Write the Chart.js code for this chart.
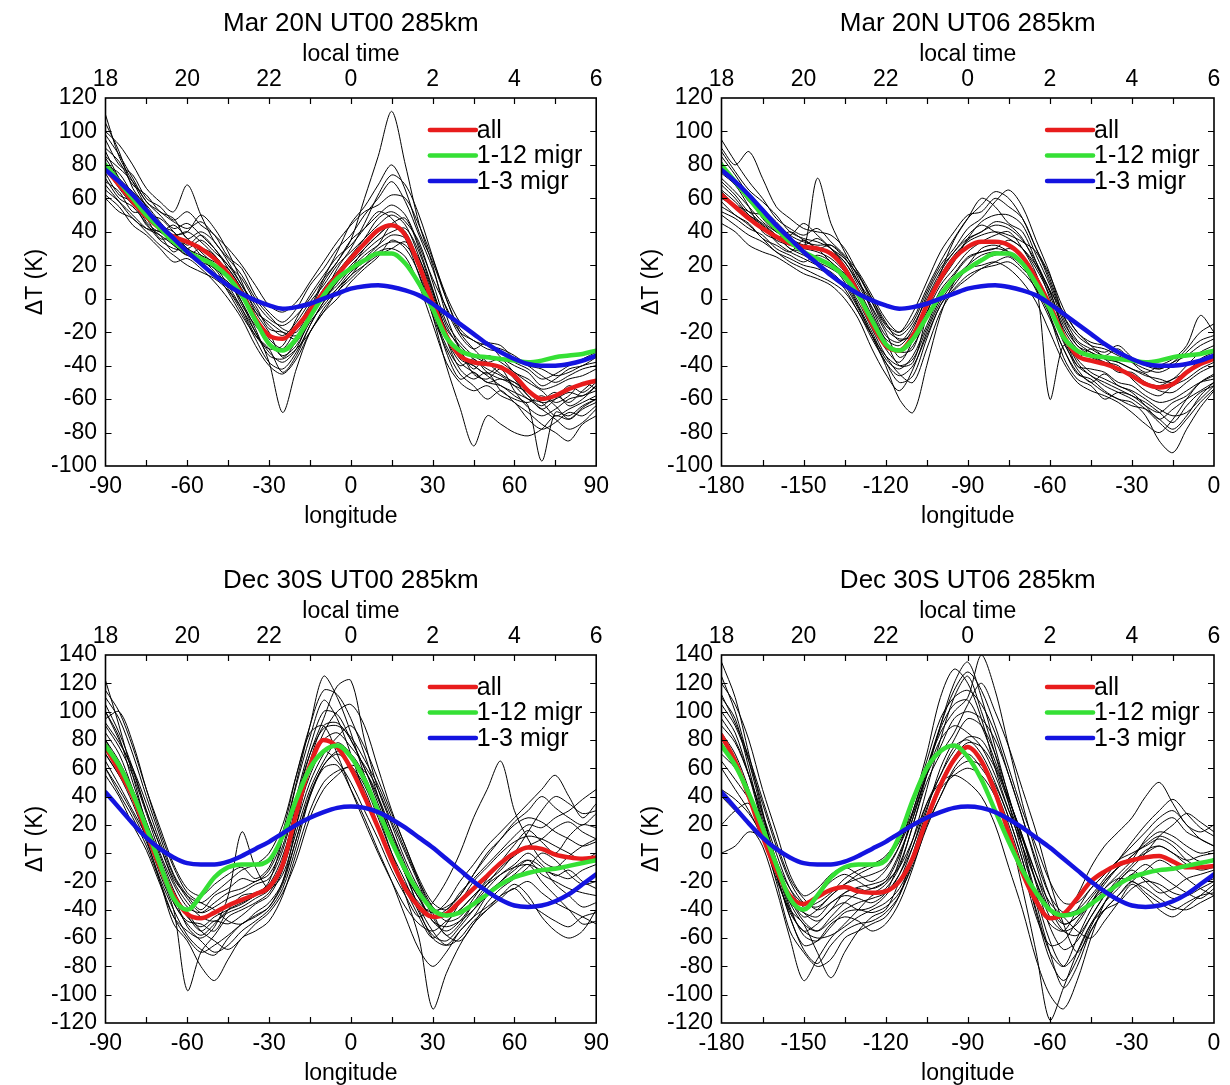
<!DOCTYPE html>
<html><head><meta charset="utf-8">
<script src="https://cdn.jsdelivr.net/npm/chart.js@4.4.0/dist/chart.umd.min.js"></script>
<style>
html,body{margin:0;padding:0;background:#fff;overflow:hidden;width:1230px;height:1085px;position:relative;}
canvas{position:absolute;}
#err{position:absolute;left:10px;top:540px;color:red;font:14px sans-serif;}
</style></head><body>
<canvas id="c1" width="616" height="528" style="left:0;top:0"></canvas>
<canvas id="c2" width="616" height="528" style="left:616px;top:0"></canvas>
<canvas id="c3" width="616" height="528" style="left:0;top:557px"></canvas>
<canvas id="c4" width="616" height="528" style="left:616px;top:557px"></canvas>
<div id="err"></div>
<script>
// ---------------- data ----------------
const lonUT00 = [-90,-85,-80,-75,-70,-65,-60,-55,-50,-45,-40,-35,-30,-25,-20,-15,-10,-5,0,5,10,15,20,25,30,35,40,45,50,55,60,65,70,75,80,85,90];
const lonUT06 = [-180,-175,-170,-165,-160,-155,-150,-145,-140,-135,-130,-125,-120,-115,-110,-105,-100,-95,-90,-85,-80,-75,-70,-65,-60,-55,-50,-45,-40,-35,-30,-25,-20,-15,-10,-5,0];
const localTimeLabels = ['18','20','22','0','2','4','6'];
const seriesLabels = ['all','1-12 migr','1-3 migr'];
const titles = ['Mar 20N UT00 285km','Mar 20N UT06 285km','Dec 30S UT00 285km','Dec 30S UT06 285km'];

// "all" curves
const redMar00 = [78,68,58,49,42,37,34,30,24,15, 3,-12,-22,-24,-17,-7,4,14,24,33, 41,44,38,20,-2,-22,-34,-38,-39,-41, -46,-55,-60,-58,-54,-51,-49];
const redMar06 = [62,55,48,42,37,33,31,30,27,18, 3,-15,-28,-31,-22,-4,12,24,31,34, 34,32,25,12,-4,-22,-34,-37,-39,-42, -46,-51,-53,-51,-44,-39,-36];
const redDec00 = [75,58,40,15,-10,-30,-43,-46,-42,-37, -33,-29,-24,-8,28,62,80,75,60,40, 18,-5,-25,-38,-45,-43,-34,-25,-16,-7, 0,4,3,-1,-3,-4,-3];
const redDec06 = [83,65,40,12,-12,-30,-36,-31,-26,-24, -27,-28,-27,-20,-3,24,48,66,75,65, 43,14,-14,-34,-46,-43,-32,-20,-13,-8, -5,-3,-2,-6,-10,-10,-9];
// migrating tides (functions of local time, shared by both UT panels)
const greenMar = [80,70,60,50,42,34,28,24,20,13, 2,-13,-27,-31,-24,-11,2,12,18,23, 27,27,21,9,-6,-23,-31,-34,-35,-36, -37,-38,-37,-35,-34,-33,-31];
const blueMar  = [77,70,62,53,44,36,28,21,14,8, 3,-1,-4,-6,-5,-3,0,3,6,7.5, 8,7,5,2,-3,-9,-15,-21,-27,-32, -36,-39,-40,-40,-39,-37,-34];
const greenDec = [76,62,42,18,-8,-32,-40,-30,-17,-10, -8,-8,-5,12,38,60,72,76,68,52, 30,8,-12,-28,-40,-44,-42,-36,-29,-22, -17,-14,-12,-11,-9,-7,-5];
const blueDec  = [43,32,21,11,3,-3,-7,-8,-8,-6, -2,3,8,14,20,25,29,32,33,32, 29,24,18,11,4,-4,-12,-20,-27,-33, -37,-38,-37,-34,-29,-22,-15];

// individual days (black)
const daysMar00 = [
 [95,80,74,60,55,47,52,44,38,25, 18,2,-8,-14,-6,8,18,30,38,50, 60,70,58,38,18,-6,-22,-30,-26,-35, -40,-44,-52,-48,-42,-40,-35],
 [62,55,44,38,30,22,24,18,10,0, -12,-28,-40,-45,-36,-20,-8,4,12,20, 28,30,25,8,-15,-38,-50,-55,-52,-58, -62,-72,-78,-74,-68,-70,-64],
 [88,72,60,46,40,44,36,28,20,8, -6,-22,-30,-28,-12,2,14,25,32,42, 52,48,36,14,-8,-28,-40,-36,-44,-48, -50,-58,-66,-60,-52,-56,-50],
 [70,64,52,52,45,34,30,35,28,20, 8,-4,-18,-20,-22,-10,0,10,20,28, 35,40,42,28,5,-16,-30,-42,-34,-38, -44,-50,-55,-62,-58,-50,-54],
 [105,88,66,55,40,38,40,50,42,28, 10,-8,-20,-35,-25,-8,10,22,35,60, 85,112,80,45,20,-10,-30,-45,-48,-42, -55,-65,-70,-66,-60,-58,-55],
 [80,75,62,50,48,40,30,26,22,18, 5,-14,-28,-30,-18,-4,4,14,22,30, 38,45,48,30,6,-20,-36,-40,-45,-40, -48,-58,-64,-58,-62,-55,-48],
 [72,60,55,45,35,30,28,22,15,10, -2,-18,-38,-68,-42,-20,-8,0,10,18, 25,35,30,15,-10,-30,-45,-52,-60,-55, -62,-68,-75,-80,-85,-75,-70],
 [85,78,70,58,50,42,45,38,30,20, 12,-2,-12,-16,-10,0,12,22,35,42, 50,56,50,32,12,-5,-20,-25,-30,-32, -38,-42,-48,-45,-40,-36,-32],
 [65,58,50,42,38,32,26,30,26,14, -2,-20,-32,-38,-30,-12,0,8,18,26, 32,38,36,18,-10,-40,-65,-88,-70,-75, -80,-82,-78,-70,-72,-65,-60],
 [90,82,68,62,52,48,36,40,34,22, 8,-6,-16,-22,-14,-2,8,20,28,36, 44,50,44,25,2,-18,-28,-36,-42,-46, -52,-60,-62,-70,-66,-62,-58],
 [60,52,48,40,32,26,20,16,12,5, -8,-24,-38,-42,-32,-16,-2,6,16,22, 30,34,32,20,0,-24,-38,-44,-50,-52, -58,-64,-97,-68,-70,-64,-60],
 [100,92,80,66,58,52,68,50,34,24, 14,0,-10,-18,-20,-6,12,28,45,55, 68,80,65,40,22,0,-18,-25,-28,-30, -34,-40,-46,-50,-46,-42,-40],
 [110,85,70,55,44,40,32,38,30,18, 6,-10,-24,-30,-26,-12,2,18,30,45, 62,74,68,50,25,0,-20,-30,-38,-45, -50,-54,-60,-56,-64,-60,-52],
 [75,62,58,44,38,28,34,26,18,12, -4,-16,-26,-34,-28,-14,-4,6,14,24, 32,44,40,22,0,-24,-42,-48,-44,-55, -60,-62,-58,-64,-72,-66,-62],
 [84,72,64,56,46,38,40,34,26,16, 4,-8,-14,-20,-24,-8,6,16,26,36, 48,52,46,34,10,-14,-26,-34,-38,-36, -44,-48,-54,-52,-48,-46,-42],
 [68,58,48,42,40,32,26,22,18,6, -6,-20,-34,-36,-30,-20,-6,4,14,20, 26,30,34,24,4,-20,-34,-40,-46,-52, -56,-60,-66,-72,-78,-74,-66],
 [98,86,72,58,52,46,42,46,38,30, 20,8,-4,-8,-2,10,22,34,44,52, 56,62,60,44,24,2,-14,-22,-26,-28, -36,-40,-42,-46,-44,-40,-38],
 [78,66,56,48,36,36,30,24,16,4, -10,-22,-30,-44,-34,-16,-2,10,18,30, 38,44,38,18,-6,-32,-48,-44,-50,-48, -52,-56,-62,-60,-56,-58,-52]
];
const daysMar06 = [
 [90,80,88,72,55,48,42,40,38,30, 15,0,-15,-20,-8,10,28,40,50,52, 60,55,48,30,12,-10,-22,-28,-30,-34, -38,-42,-44,-40,-32,-25,-22],
 [45,40,32,28,25,20,15,12,8,0, -12,-30,-45,-55,-42,-20,-2,10,18,20, 22,18,10,-2,-20,-38,-50,-55,-58,-62, -68,-75,-80,-72,-60,-50,-45],
 [70,62,52,50,42,38,45,38,30,20, 6,-10,-24,-28,-18,2,18,28,38,44, 40,36,30,18,2,-18,-30,-35,-38,-40, -48,-55,-58,-52,-48,-42,-38],
 [58,50,45,36,32,28,35,30,32,25, 10,-5,-20,-35,-28,-12,5,15,25,28, 30,35,30,20,5,-20,-40,-42,-44,-50, -52,-58,-62,-60,-55,-50,-48],
 [82,68,60,48,40,35,30,72,45,28, 12,-8,-25,-40,-38,-10,15,35,48,60, 55,45,40,22,0,-25,-35,-30,-32,-28, -35,-40,-42,-38,-30,-20,-15],
 [65,58,50,45,38,30,28,24,20,10, -5,-22,-40,-60,-68,-40,-10,10,20,30, 32,28,20,5,-12,-30,-45,-48,-55,-60, -62,-70,-85,-92,-78,-65,-55],
 [75,68,55,40,36,40,35,30,22,15, 5,-12,-28,-32,-30,-5,10,22,35,40, 44,42,35,22,5,-8,-20,-28,-35,-38, -42,-45,-50,-48,-40,-32,-28],
 [52,48,42,38,30,26,22,26,22,12, -2,-18,-34,-45,-50,-30,-8,5,12,18, 22,25,18,8,-60,-28,-42,-50,-45,-52, -55,-60,-66,-70,-68,-60,-52],
 [88,76,65,58,50,40,36,34,30,22, 10,-2,-16,-22,-14,4,20,30,42,48, 58,65,55,35,15,-10,-25,-30,-34,-30, -38,-44,-40,-36,-28,-10,-20],
 [60,55,48,42,35,32,30,28,24,16, 2,-16,-30,-38,-25,-8,8,18,28,34, 38,40,30,15,-10,-35,-48,-52,-60,-56, -58,-64,-68,-62,-58,-50,-46],
 [78,70,58,52,45,36,32,36,30,24, 14,0,-14,-25,-20,-2,14,26,34,38, 40,38,34,28,10,-12,-28,-32,-36,-42, -46,-50,-55,-56,-50,-44,-40],
 [68,60,50,44,38,30,26,22,18,12, -4,-20,-36,-42,-34,-16,2,14,24,28, 30,28,22,12,-4,-22,-36,-44,-48,-52, -56,-64,-72,-66,-60,-55,-50],
 [95,82,70,60,48,42,38,42,34,26, 16,2,-12,-20,-12,6,22,36,48,56, 64,60,48,30,14,-6,-20,-26,-28,-32, -36,-38,-42,-38,-34,-28,-24],
 [50,44,38,34,28,22,18,14,10,4, -8,-24,-38,-50,-46,-24,-4,6,14,18, 20,22,16,6,-10,-30,-44,-50,-56,-60, -64,-66,-72,-78,-70,-58,-50],
 [72,64,55,46,40,36,32,30,28,22, 8,-6,-22,-26,-16,0,16,28,36,40, 46,44,36,20,4,-16,-28,-34,-38,-44, -44,-50,-52,-48,-44,-36,-32],
 [64,56,52,44,34,28,24,20,16,8, -6,-22,-38,-46,-40,-22,-4,8,18,24, 26,30,26,14,-2,-20,-38,-46,-50,-54, -58,-62,-68,-74,-64,-56,-52],
 [85,74,62,54,46,38,34,32,32,24, 14,-2,-18,-24,-22,-2,14,24,36,46, 50,50,44,26,8,-14,-26,-32,-36,-38, -42,-46,-48,-50,-44,-38,-34],
 [55,50,44,36,28,24,20,18,14,6, -8,-22,-34,-40,-36,-18,0,12,20,26, 28,26,20,10,-6,-26,-40,-46,-52,-56, -60,-66,-74,-80,-72,-62,-54]
];
const daysDec00 = [
 [122,90,55,20,-10,-35,-50,-58,-50,-40, -35,-30,-20,10,50,90,125,110,85,55, 28,0,-25,-45,-60,-50,-35,-20,-10,0, 8,12,10,5,0,-5,0],
 [60,42,25,5,-20,-45,-60,-70,-65,-58, -50,-44,-38,-20,10,40,60,62,45,25, 2,-20,-45,-68,-80,-70,-55,-45,-30,-20, -10,-5,-15,-20,-25,-28,-30],
 [90,75,55,28,0,-22,-38,-42,-35,-28, -25,-20,-15,5,40,75,100,98,80,60, 35,12,-10,-28,-40,-38,-30,-15,0,10, 20,25,22,15,10,5,8],
 [105,85,60,30,5,-18,-30,-35,-28,-20, -12,-8,0,20,55,85,90,70,45,22, 0,-20,-38,-50,-55,-48,-40,-30,-22,-15, -10,-8,-12,-15,-18,-12,-8],
 [80,60,38,12,-15,-40,-97,-70,-58,-45, -40,-35,-28,-10,25,55,72,65,50,30, 10,-12,-30,-45,-35,-20,0,25,45,65, 30,10,-5,-10,-2,5,10],
 [70,55,35,10,-20,-50,-62,-80,-90,-75, -60,-55,-48,-30,0,30,50,58,60,45, 20,-5,-30,-60,-110,-85,-65,-50,-40,-30, -25,-20,-28,-35,-40,-45,-50],
 [100,82,50,22,-5,-28,-45,-52,-45,-40, -36,-30,-25,-5,35,70,95,118,122,80, 45,20,-5,-25,-38,-45,-40,-30,-20,-12, 0,15,30,40,35,28,30],
 [55,40,20,2,-22,-45,-55,-60,-52,-30, 15,-10,-25,-15,15,45,65,78,70,50, 30,8,-15,-32,-48,-52,-48,-40,-30,-22, -15,-8,-20,-30,-40,-50,-48],
 [95,100,78,45,15,-10,-28,-35,-40,-48, -50,-42,-35,-20,20,60,85,100,105,90, 60,30,5,-18,-35,-40,-28,-18,-8,2, 12,20,18,25,30,38,45],
 [65,48,30,12,-8,-28,-42,-55,-62,-68, -60,-50,-42,-28,-5,25,45,55,62,58, 40,15,-12,-40,-60,-65,-55,-45,-38,-30, -22,-30,-45,-55,-60,-55,-40],
 [110,95,70,40,12,-15,-30,-40,-30,-25, -18,-20,-12,10,48,82,108,95,70,42, 18,-5,-22,-35,-42,-35,-20,-8,5,15, 25,35,45,55,40,25,35],
 [85,70,45,18,-12,-35,-48,-50,-55,-40, -30,-28,-22,-2,30,62,80,85,75,62, 45,22,0,-22,-45,-58,-62,-50,-35,-25, -18,-10,0,-5,-15,-22,-20],
 [100,80,58,30,5,-20,-35,-45,-48,-42, -38,-32,-26,-8,30,65,90,92,80,60, 38,15,-8,-30,-48,-55,-48,-35,-22,-10, -2,5,10,18,22,15,10],
 [70,55,40,20,-5,-30,-52,-62,-70,-65, -55,-48,-40,-25,5,40,62,70,62,48, 25,0,-20,-42,-58,-62,-52,-40,-28,-20, -12,-5,-10,-22,-30,-38,-35],
 [115,100,75,45,18,-8,-25,-30,-22,-15, -10,-18,-10,15,55,90,115,112,95,70, 40,10,-15,-32,-45,-40,-30,-15,-2,10, 22,30,40,32,25,20,28],
 [60,45,28,8,-18,-40,-58,-68,-72,-60, -50,-45,-38,-22,10,42,62,72,70,55, 32,10,-15,-38,-55,-65,-60,-48,-40,-32, -25,-35,-42,-48,-52,-45,-42],
 [92,78,60,35,8,-16,-32,-42,-38,-32, -28,-22,-18,2,38,70,88,90,82,66, 48,25,2,-20,-38,-48,-45,-32,-18,-6, 6,16,8,0,12,20,18],
 [80,65,45,22,-2,-26,-44,-55,-48,-50, -44,-36,-30,-12,20,50,70,82,90,75, 52,28,5,-20,-42,-58,-50,-36,-25,-15, -8,0,-8,-16,-12,-20,-25]
];
const daysDec06 = [
 [135,110,70,30,-10,-40,-55,-50,-40,-35, -40,-38,-30,-15,10,45,80,110,125,100, 70,35,0,-30,-50,-55,-40,-25,-15,-5, 0,5,10,5,-5,-10,-8],
 [0,5,15,10,-20,-55,-70,-80,-75,-60, -55,-50,-45,-30,0,30,60,80,95,90, 70,40,5,-35,-70,-95,-80,-55,-40,-30, -20,-28,-35,-40,-35,-30,-28],
 [100,85,55,20,-10,-35,-42,-45,-35,-30, -32,-35,-28,-5,30,60,85,100,110,140, 115,75,35,0,-30,-50,-45,-35,-20,-10, -5,0,5,0,-5,-2,0],
 [60,45,30,10,-15,-45,-65,-62,-50,-45, -48,-55,-50,-35,-10,20,45,55,60,55, 40,15,-25,-70,-118,-95,-70,-50,-40,-35, -25,-20,-22,-28,-30,-25,-20],
 [120,105,80,45,15,-15,-30,-25,-15,-10, -15,-20,-12,5,35,70,110,130,120,95, 60,30,5,-20,-40,-45,-30,-10,5,15, 25,40,50,35,20,15,20],
 [40,30,20,5,-25,-60,-90,-75,-60,-50, -40,-30,-25,-10,20,50,70,85,105,120, 100,75,45,15,-20,-50,-70,-55,-40,-30, -20,-12,-5,-10,-18,-25,-30],
 [85,70,45,12,-18,-40,-50,-70,-88,-70, -55,-45,-40,-20,5,35,55,75,80,70, 50,25,-5,-40,-70,-80,-60,-40,-25,-15, -5,10,20,25,15,10,5],
 [110,95,60,22,-5,-25,-35,-30,-20,-15, -20,-25,-20,-2,25,55,80,90,85,75, 55,30,10,-15,-35,-45,-55,-60,-48,-35, -22,-30,-40,-45,-38,-30,-22],
 [20,30,35,15,-10,-35,-50,-55,-45,-35, -28,-25,-20,-10,10,35,50,55,50,40, 20,-10,-40,-75,-100,-110,-90,-60,-35,-20, -10,0,12,20,28,22,15],
 [95,80,55,25,-5,-30,-45,-40,-30,-22, -15,-10,-5,8,30,60,90,115,128,115, 90,60,30,5,-20,-35,-35,-25,-15,-5, 5,15,25,30,20,10,5],
 [70,60,40,15,-15,-42,-55,-60,-58,-52, -45,-40,-35,-25,-5,20,40,60,70,60, 45,20,-10,-45,-65,-62,-48,-35,-25,-18, -20,-25,-32,-38,-40,-35,-30],
 [105,90,65,35,5,-20,-35,-38,-30,-22, -18,-15,-10,5,28,55,75,95,100,95, 80,55,25,-8,-38,-55,-58,-45,-30,-18, -8,2,5,0,-8,-12,-10],
 [125,100,65,28,-5,-30,-42,-48,-40,-28, -25,-28,-22,-8,20,55,90,120,135,110, 75,40,10,-20,-45,-55,-50,-35,-22,-10, -2,8,15,12,5,0,2],
 [65,52,38,18,-10,-38,-58,-62,-52,-42, -40,-42,-38,-28,-8,18,40,58,65,62, 48,25,-5,-42,-75,-90,-75,-52,-35,-25, -15,-18,-25,-32,-28,-22,-18],
 [90,78,55,28,0,-25,-38,-35,-28,-18, -12,-8,-2,12,35,65,95,110,115,105, 85,55,25,-5,-30,-42,-40,-30,-18,-5, 8,20,30,38,28,18,12],
 [45,38,28,12,-15,-45,-68,-78,-65,-55, -50,-48,-42,-30,-5,25,50,68,78,75, 60,35,5,-30,-62,-80,-70,-50,-35,-22, -15,-8,-15,-22,-28,-32,-25],
 [112,92,68,38,8,-18,-32,-40,-35,-28, -24,-22,-18,0,25,58,88,105,108,90, 65,38,12,-15,-40,-50,-45,-32,-20,-10, -2,6,12,8,0,-6,-4],
 [78,62,42,18,-8,-32,-48,-55,-48,-40, -35,-32,-28,-15,5,32,55,72,82,80, 62,38,12,-22,-52,-68,-62,-45,-30,-20, -12,-20,-28,-25,-18,-15,-12]
];

// ---------------- drawing ----------------
const FONT = "'Liberation Sans', Arial, Helvetica, sans-serif";
const RED = '#e81c1c', GREEN = '#35e035', BLUE = '#1414e0';

const framePlugin = {
  id: 'frameTicks',
  afterDatasetsDraw(chart) {
    const {ctx, chartArea: a} = chart;
    const x = chart.scales.x, y = chart.scales.y;
    ctx.save();
    ctx.strokeStyle = '#000';
    ctx.lineWidth = 1.2;
    ctx.beginPath();
    for (let v = x.min + 15; v < x.max; v += 15) {
      const px = Math.round(x.getPixelForValue(v)) + 0.5;
      ctx.moveTo(px, a.bottom); ctx.lineTo(px, a.bottom - 6);
      ctx.moveTo(px, a.top); ctx.lineTo(px, a.top + 6);
    }
    for (let v = y.min + 20; v < y.max; v += 20) {
      const py = Math.round(y.getPixelForValue(v)) + 0.5;
      ctx.moveTo(a.left, py); ctx.lineTo(a.left + 6, py);
      ctx.moveTo(a.right, py); ctx.lineTo(a.right - 6, py);
    }
    ctx.stroke();
    ctx.lineWidth = 1.6;
    ctx.strokeRect(a.left, a.top, a.right - a.left, a.bottom - a.top);
    ctx.restore();
  }
};

const keyPlugin = {
  id: 'key',
  afterDraw(chart) {
    const {ctx, chartArea: a} = chart;
    const w = a.right - a.left;
    ctx.save();
    ctx.font = '25px ' + FONT;
    ctx.textBaseline = 'middle';
    ctx.textAlign = 'left';
    chart.data.datasets.slice(0, 3).forEach((ds, i) => {
      const yy = a.top + 32 + i * 25.5;
      const x0 = a.left + w * 0.661, x1 = x0 + 46;
      ctx.strokeStyle = ds.borderColor; ctx.lineWidth = 4.5; ctx.lineCap = 'round';
      ctx.beginPath(); ctx.moveTo(x0, yy); ctx.lineTo(x1, yy); ctx.stroke();
      ctx.fillStyle = '#000';
      ctx.fillText(ds.label, x1 + 1, yy + 1);
    });
    ctx.restore();
  }
};

function pts(lons, vals) { return lons.map((x, i) => ({x: x, y: vals[i]})); }

function makePanel(id, title, lons, yMin, yMax, red, green, blue, days) {
  const colored = [
    {label: seriesLabels[0], data: pts(lons, red), borderColor: RED, order: 2},
    {label: seriesLabels[1], data: pts(lons, green), borderColor: GREEN, order: 1},
    {label: seriesLabels[2], data: pts(lons, blue), borderColor: BLUE, order: 0}
  ].map(d => Object.assign(d, {borderWidth: 4.5, cubicInterpolationMode: 'monotone', borderCapStyle: 'round', borderJoinStyle: 'round', pointRadius: 0, fill: false}));
  const black = days.map((arr, k) => ({label: 'day' + k, data: pts(lons, arr), borderColor: '#000', borderWidth: 1, tension: 0.3, pointRadius: 0, fill: false, order: 3}));
  const xMin = lons[0], xMax = lons[lons.length - 1];
  const tickFont = {family: FONT, size: 23};
  new Chart(document.getElementById(id), {
    type: 'line',
    data: {datasets: colored.concat(black)},
    options: {
      responsive: false, animation: false, devicePixelRatio: 1,
      events: [],
      layout: {padding: {left: 0, right: 18, top: 0, bottom: 0}},
      scales: {
        x: {
          type: 'linear', position: 'bottom', min: xMin, max: xMax,
          grid: {display: false, drawTicks: false}, border: {display: false},
          ticks: {stepSize: 30, color: '#000', font: tickFont, padding: 7, maxRotation: 0, autoSkip: false},
          title: {display: true, text: 'longitude', color: '#000', font: {family: FONT, size: 23, lineHeight: 1}, padding: {top: 0, bottom: 0}},
          afterFit(s) { s.height = 62; }
        },
        x2: {
          type: 'linear', position: 'top', min: xMin, max: xMax,
          grid: {display: false, drawTicks: false}, border: {display: false},
          ticks: {stepSize: 30, color: '#000', font: tickFont, padding: 5, maxRotation: 0, autoSkip: false,
                  callback: (v, i) => localTimeLabels[i]},
          title: {display: true, text: 'local time', color: '#000', font: {family: FONT, size: 23, lineHeight: 1}, padding: {top: 4.3, bottom: 0}},
          afterFit(s) { s.height = 58.8; }
        },
        y: {
          type: 'linear', position: 'left', min: yMin, max: yMax,
          grid: {display: false, drawTicks: false}, border: {display: false},
          ticks: {stepSize: 20, color: '#000', font: tickFont, padding: 8.5, autoSkip: false},
          title: {display: true, text: 'ΔT (K)', color: '#000', font: {family: FONT, size: 23, lineHeight: 1}, padding: {top: 24, bottom: 0}},
          afterFit(s) { s.width = 105.5; }
        }
      },
      plugins: {
        legend: {display: false},
        tooltip: {enabled: false},
        title: {display: true, text: title, color: '#000', fullSize: false,
                font: {family: FONT, size: 26, weight: 'normal', lineHeight: 1.2}, padding: {top: 8, bottom: 0}}
      }
    },
    plugins: [framePlugin, keyPlugin]
  });
}

// sanity check of array lengths
const problems = [];
[['redMar00',redMar00],['redMar06',redMar06],['redDec00',redDec00],['redDec06',redDec06],['greenMar',greenMar],['blueMar',blueMar],['greenDec',greenDec],['blueDec',blueDec]]
  .forEach(([n,a]) => { if (a.length !== 37) problems.push(n + ':' + a.length); });
[['daysMar00',daysMar00],['daysMar06',daysMar06],['daysDec00',daysDec00],['daysDec06',daysDec06]]
  .forEach(([n,g]) => g.forEach((a,k) => { if (a.length !== 37) problems.push(n + '[' + k + ']:' + a.length); }));
if (problems.length) document.getElementById('err').textContent = 'LEN ' + problems.join(' ');

makePanel('c1', titles[0], lonUT00, -100, 120, redMar00, greenMar, blueMar, daysMar00);
makePanel('c2', titles[1], lonUT06, -100, 120, redMar06, greenMar, blueMar, daysMar06);
makePanel('c3', titles[2], lonUT00, -120, 140, redDec00, greenDec, blueDec, daysDec00);
makePanel('c4', titles[3], lonUT06, -120, 140, redDec06, greenDec, blueDec, daysDec06);
</script>
</body></html>
